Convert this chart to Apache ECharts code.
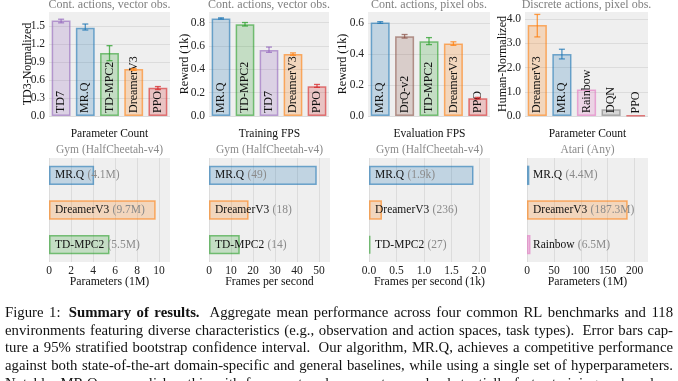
<!DOCTYPE html>
<html><head><meta charset="utf-8">
<script src="https://cdn.jsdelivr.net/npm/echarts@6/dist/echarts.min.js"></script>
<style>html,body{margin:0;padding:0;background:#fff}#c{width:678px;height:381px}</style>
</head><body><div id="c"></div>
<script>
// ---------- data ----------
const p1Cats = ['TD7', 'MR.Q', 'TD-MPC2', 'DreamerV3', 'PPO'];
const p1Vals = [1.59, 1.47, 1.05, 0.78, 0.47];
const p1Lo   = [1.55, 1.43, 0.92, 0.76, 0.44];
const p1Hi   = [1.61, 1.53, 1.17, 0.79, 0.49];

const p2Cats = ['MR.Q', 'TD-MPC2', 'TD7', 'DreamerV3', 'PPO'];
const p2Vals = [0.835, 0.785, 0.565, 0.53, 0.255];
const p2Lo   = [0.83, 0.77, 0.545, 0.52, 0.245];
const p2Hi   = [0.84, 0.80, 0.59, 0.54, 0.27];

const p3Cats = ['MR.Q', 'DrQ-v2', 'TD-MPC2', 'DreamerV3', 'PPO'];
const p3Vals = [0.603, 0.513, 0.482, 0.467, 0.115];
const p3Lo   = [0.597, 0.502, 0.46, 0.455, 0.11];
const p3Hi   = [0.608, 0.525, 0.505, 0.478, 0.12];

const p4Cats = ['DreamerV3', 'MR.Q', 'Rainbow', 'DQN', 'PPO'];
const p4Vals = [3.76, 2.56, 1.10, 0.28, 0.02];
const p4Lo   = [3.27, 2.36, null, null, null];
const p4Hi   = [4.20, 2.76, null, null, null];

const p5Cats = ['MR.Q', 'DreamerV3', 'TD-MPC2'];
const p5Vals = [4.1, 9.7, 5.5];
const p5Tags = ['4.1M', '9.7M', '5.5M'];

const p6Cats = ['MR.Q', 'DreamerV3', 'TD-MPC2'];
const p6Vals = [49, 18, 14];
const p6Tags = ['49', '18', '14'];

const p7Cats = ['MR.Q', 'DreamerV3', 'TD-MPC2'];
const p7Vals = [1.9, 0.236, 0.027];
const p7Tags = ['1.9k', '236', '27'];

const p8Cats = ['MR.Q', 'DreamerV3', 'Rainbow'];
const p8Vals = [4.4, 187.3, 6.5];
const p8Tags = ['4.4M', '187.3M', '6.5M'];

const topTitles = ['Cont. actions, vector obs.', 'Cont. actions, vector obs.', 'Cont. actions, pixel obs.', 'Discrete actions, pixel obs.'];
const topYNames = ['TD3-Normalized', 'Reward (1k)', 'Reward (1k)', 'Human-Normalized'];
const botTitles = ['Parameter Count', 'Training FPS', 'Evaluation FPS', 'Parameter Count'];
const botSubtitles = ['Gym (HalfCheetah-v4)', 'Gym (HalfCheetah-v4)', 'Gym (HalfCheetah-v4)', 'Atari (Any)'];
const botXNames = ['Parameters (1M)', 'Frames per second', 'Frames per second (1k)', 'Parameters (1M)'];

const captionLines = [
  'Figure 1: **Summary of results.** Aggregate mean performance across four common RL benchmarks and 118',
  'environments featuring diverse characteristics (e.g., observation and action spaces, task types). Error bars cap-',
  'ture a 95% stratified bootstrap confidence interval. Our algorithm, MR.Q, achieves a competitive performance',
  'against both state-of-the-art domain-specific and general baselines, while using a single set of hyperparameters.',
  'Notably, MR.Q accomplishes this with fewer network parameters and substantially faster training and evalua-'
];

// ---------- style ----------
const FONT = 'Liberation Serif';
const algoColors = {
  'MR.Q': [31, 119, 180], 'TD7': [148, 103, 189], 'TD-MPC2': [44, 160, 44],
  'DreamerV3': [255, 127, 14], 'PPO': [214, 39, 40], 'DrQ-v2': [140, 86, 75],
  'Rainbow': [227, 119, 194], 'DQN': [127, 127, 127]
};
function rgba(c, a) { return 'rgba(' + c[0] + ',' + c[1] + ',' + c[2] + ',' + a + ')'; }
function fnt(sz, b) { return (b ? 'bold ' : '') + sz + 'px "' + FONT + '"'; }

const topPanels = [
  { cats: p1Cats, vals: p1Vals, lo: p1Lo, hi: p1Hi, max: 1.73, interval: 0.3, left: 49, width: 121, ylx: 28 },
  { cats: p2Cats, vals: p2Vals, lo: p2Lo, hi: p2Hi, max: 0.89, interval: 0.2, left: 209, width: 120, ylx: 185 },
  { cats: p3Cats, vals: p3Vals, lo: p3Lo, hi: p3Hi, max: 0.67, interval: 0.2, left: 368, width: 122, ylx: 343 },
  { cats: p4Cats, vals: p4Vals, lo: p4Lo, hi: p4Hi, max: 4.3, interval: 1.0, left: 525, width: 123, ylx: 503 }
];
const botPanels = [
  { cats: p5Cats, vals: p5Vals, tags: p5Tags, max: 11, interval: 2, left: 49, width: 121, dec: 0 },
  { cats: p6Cats, vals: p6Vals, tags: p6Tags, max: 55, interval: 10, left: 209, width: 121, dec: 0 },
  { cats: p7Cats, vals: p7Vals, tags: p7Tags, max: 2.2, interval: 0.5, left: 369, width: 121, dec: 1 },
  { cats: p8Cats, vals: p8Vals, tags: p8Tags, max: 225, interval: 50, left: 527, width: 121, dec: 0 }
];

const TOP_T = 12, TOP_H = 104, BOT_T = 158, BOT_H = 104;
const TICK_FS = 11.5, TITLE_FS = 11.5, NAME_FS = 11.8, BAR_FS = 12, HBAR_FS = 11.5;
const grid = [], xAxis = [], yAxis = [], series = [], graphic = [];

function addText(x, y, text, font, fill, align, rot) {
  const el = { type: 'text', x: x, y: y, silent: true,
    style: { text: text, font: font, fill: fill, align: align || 'center', verticalAlign: 'middle', textAlign: align || 'center', textVerticalAlign: 'middle' } };
  if (rot) el.rotation = rot;
  graphic.push(el);
}

topPanels.forEach((p, i) => {
  grid.push({ left: p.left, top: TOP_T, width: p.width, height: TOP_H, show: true, backgroundColor: '#efefef', borderWidth: 0 });
  xAxis.push({ type: 'category', gridIndex: i, data: p.cats, axisLine: { show: false }, axisTick: { show: false }, axisLabel: { show: false }, splitLine: { show: false } });
  yAxis.push({ type: 'value', gridIndex: i, min: 0, max: p.max, interval: p.interval,
    axisLine: { show: false }, axisTick: { show: false },
    axisLabel: { formatter: v => v.toFixed(1), fontFamily: FONT, fontSize: TICK_FS, color: '#222', margin: 4, showMaxLabel: false },
    splitLine: { show: true, showMaxLine: false, lineStyle: { color: '#dcdcdc', width: 1 } } });
  series.push({
    type: 'bar', xAxisIndex: i, yAxisIndex: i, barCategoryGap: '22%',
    data: p.vals.map((v, j) => {
      const c = algoColors[p.cats[j]];
      return { value: v, itemStyle: { color: rgba(c, 0.22), borderColor: rgba(c, 0.6), borderWidth: 1.5 } };
    }),
    label: { show: true, position: 'insideBottom', rotate: 90, align: 'left', verticalAlign: 'middle', distance: 3,
      formatter: '{b}', fontFamily: FONT, fontSize: BAR_FS, color: '#111' },
    silent: true, animation: false
  });
  const errData = [];
  p.lo.forEach((l, j) => { if (l !== null) errData.push([j, l, p.hi[j]]); });
  series.push({
    type: 'custom', xAxisIndex: i, yAxisIndex: i, z: 5, animation: false, silent: true,
    encode: { x: 0, y: [1, 2] },
    data: errData,
    renderItem: (params, api) => {
      const j = api.value(0);
      const a = api.coord([j, api.value(1)]);
      const b = api.coord([j, api.value(2)]);
      const col = rgba(algoColors[p.cats[j]], 0.75);
      const st = { stroke: col, lineWidth: 1.3 };
      return { type: 'group', children: [
        { type: 'line', shape: { x1: a[0], y1: a[1], x2: b[0], y2: b[1] }, style: st },
        { type: 'line', shape: { x1: a[0] - 3, y1: a[1], x2: a[0] + 3, y2: a[1] }, style: st },
        { type: 'line', shape: { x1: b[0] - 3, y1: b[1], x2: b[0] + 3, y2: b[1] }, style: st }
      ] };
    }
  });
  const cx = p.left + p.width / 2;
  addText(cx, 5, topTitles[i], fnt(12), '#808080');
  addText(p.ylx, TOP_T + TOP_H / 2, topYNames[i], fnt(12), '#111', 'center', Math.PI / 2);
});

botPanels.forEach((p, k) => {
  const i = k + 4;
  grid.push({ left: p.left, top: BOT_T, width: p.width, height: BOT_H, show: true, backgroundColor: '#efefef', borderWidth: 0 });
  yAxis.push({ type: 'category', gridIndex: i, data: p.cats, inverse: true, axisLine: { show: false }, axisTick: { show: false }, axisLabel: { show: false }, splitLine: { show: false } });
  xAxis.push({ type: 'value', gridIndex: i, min: 0, max: p.max, interval: p.interval,
    axisLine: { show: false }, axisTick: { show: false },
    axisLabel: { formatter: v => v.toFixed(p.dec), fontFamily: FONT, fontSize: TICK_FS, color: '#222', margin: 3, showMaxLabel: false },
    splitLine: { show: true, showMaxLine: false, lineStyle: { color: '#dcdcdc', width: 1 } } });
  series.push({
    type: 'bar', xAxisIndex: i, yAxisIndex: i, barCategoryGap: '44%',
    data: p.vals.map((v, j) => {
      const c = algoColors[p.cats[j]];
      return { value: v, itemStyle: { color: rgba(c, 0.22), borderColor: rgba(c, 0.6), borderWidth: 1.5 } };
    }),
    label: { show: true, position: 'insideLeft', distance: 6,
      formatter: prm => '{n|' + prm.name + '} {t|(' + p.tags[prm.dataIndex] + ')}',
      rich: { n: { fontFamily: FONT, fontSize: HBAR_FS, color: '#111' }, t: { fontFamily: FONT, fontSize: HBAR_FS, color: '#8a8a8a' } } },
    silent: true, animation: false
  });
  const cx = p.left + p.width / 2;
  addText(cx, 134, botTitles[k], fnt(TITLE_FS), '#111');
  addText(cx, 150, botSubtitles[k], fnt(TITLE_FS), '#8a8a8a');
  addText(cx, 282, botXNames[k], fnt(NAME_FS), '#111');
});

// ---------- caption (justified, TeX-like extra space after sentence ends) ----------
const CAP_FS = 14.75, CAP_L = 5, CAP_R = 673, CAP_Y0 = 313, CAP_DY = 17.7;
const mctx = document.createElement('canvas').getContext('2d');
captionLines.forEach((line, li) => {
  const words = []; let bold = false;
  line.split(' ').forEach(tok => {
    let t = tok, b = bold;
    if (t.startsWith('**')) { t = t.slice(2); b = true; bold = true; }
    if (t.endsWith('**')) { t = t.slice(0, -2); bold = false; }
    words.push({ t, b });
  });
  const widths = words.map(w => { mctx.font = fnt(CAP_FS, w.b); return mctx.measureText(w.t).width; });
  const weights = words.slice(0, -1).map(w => /[.]$/.test(w.t) && w.t !== 'e.g.,' ? 1.8 : (/[:]$/.test(w.t) ? 1.5 : 1));
  const sum = widths.reduce((a, b) => a + b, 0);
  const wsum = weights.reduce((a, b) => a + b, 0);
  const unit = (CAP_R - CAP_L - sum) / wsum;
  let x = CAP_L;
  words.forEach((w, j) => {
    addText(x, CAP_Y0 + li * CAP_DY, w.t, fnt(CAP_FS, w.b), '#111', 'left');
    if (j < weights.length) x += widths[j] + unit * weights[j];
  });
});

const chart = echarts.init(document.getElementById('c'), null, { renderer: 'canvas' });
chart.setOption({ animation: false, backgroundColor: '#fff', grid, xAxis, yAxis, series, graphic });
</script></body></html>
